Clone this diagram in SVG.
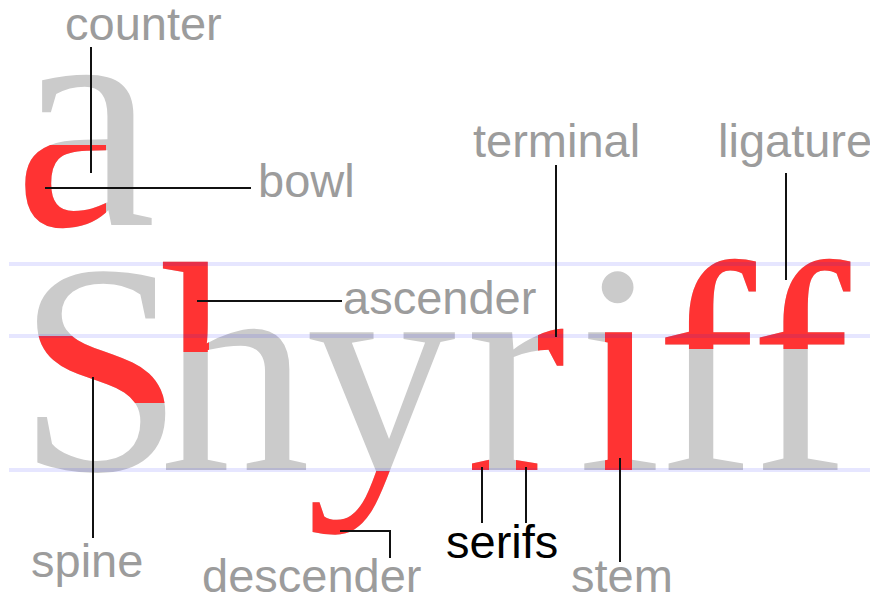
<svg xmlns="http://www.w3.org/2000/svg" width="870" height="598" viewBox="0 0 870 598">
<defs>
<style>
.big{font-family:"Liberation Serif","Times New Roman",serif;font-size:300px}
.g{fill:#cbcbcb}
.r{fill:#ff3333}
.lbl{font-family:"Liberation Sans",Arial,sans-serif;font-size:47px;fill:#9c9c9c}
.blk{fill:#000000}
.lead{stroke:#111111;stroke-width:2;fill:none}
.guide{stroke:#1a1aff;stroke-opacity:0.11;stroke-width:4}
</style>
<clipPath id="cA"><rect x="0" y="145" width="106" height="100"/></clipPath>
<clipPath id="cS"><rect x="0" y="336" width="170" height="67"/></clipPath>
<clipPath id="cH"><rect x="150" y="230" width="59" height="122"/></clipPath>
<clipPath id="cY"><rect x="290" y="471" width="180" height="100"/></clipPath>
<clipPath id="cR"><rect x="538" y="300" width="50" height="70"/><rect x="455" y="455" width="34" height="20"/><rect x="516" y="455" width="34" height="20"/></clipPath>
<clipPath id="cI"><rect x="605" y="318" width="27" height="157"/></clipPath>
<clipPath id="cF"><rect x="655" y="200" width="215" height="149"/></clipPath>
</defs>
<rect width="870" height="598" fill="#ffffff"/>
<g id="glyphs">
<text class="big g" x="14" y="225" style="font-size:320px">a</text>
<text class="big r" x="14" y="225" style="font-size:320px" clip-path="url(#cA)">a</text>
<text class="big g" x="17" y="470">S</text>
<text class="big r" x="17" y="470" clip-path="url(#cS)">S</text>
<text class="big g" x="160" y="470">h</text>
<text class="big r" x="160" y="470" clip-path="url(#cH)">h</text>
<text class="big g" x="306" y="470">y</text>
<text class="big r" x="306" y="470" clip-path="url(#cY)">y</text>
<text class="big g" x="466" y="470">r</text>
<text class="big r" x="466" y="470" clip-path="url(#cR)">r</text>
<text class="big g" x="578" y="470">i</text>
<text class="big r" x="578" y="470" clip-path="url(#cI)">i</text>
<text class="big g" x="656" y="470">ff</text>
<text class="big r" x="656" y="470" clip-path="url(#cF)">ff</text>
</g>
<g id="guides">
<line class="guide" x1="9" y1="264" x2="870" y2="264"/>
<line class="guide" x1="9" y1="336" x2="870" y2="336"/>
<line class="guide" x1="9" y1="470" x2="870" y2="470"/>
</g>
<g id="connectors">
<line class="lead" x1="91" y1="47" x2="91" y2="173"/>
<line class="lead" x1="45" y1="188" x2="251" y2="188"/>
<line class="lead" x1="197" y1="301" x2="342" y2="301"/>
<line class="lead" x1="556" y1="165" x2="556" y2="337"/>
<line class="lead" x1="786" y1="173" x2="786" y2="280"/>
<line class="lead" x1="93" y1="377" x2="93" y2="538"/>
<polyline class="lead" points="340,531 390,531 390,558"/>
<line class="lead" x1="482" y1="467" x2="482" y2="523"/>
<line class="lead" x1="526" y1="467" x2="526" y2="523"/>
<line class="lead" x1="620" y1="458" x2="620" y2="562"/>
</g>
<g id="counter"><text class="lbl" x="65" y="40">counter</text></g>
<g id="bowl"><text class="lbl" x="258" y="197">bowl</text></g>
<g id="ascender"><text class="lbl" x="343" y="314">ascender</text></g>
<g id="terminal"><text class="lbl" x="473" y="157">terminal</text></g>
<g id="ligature"><text class="lbl" x="718" y="157">ligature</text></g>
<g id="spine"><text class="lbl" x="31" y="577">spine</text></g>
<g id="descender"><text class="lbl" x="202" y="592">descender</text></g>
<g id="serifs"><text class="lbl blk" x="446" y="558">serifs</text></g>
<g id="stem"><text class="lbl" x="571" y="592">stem</text></g>
</svg>
